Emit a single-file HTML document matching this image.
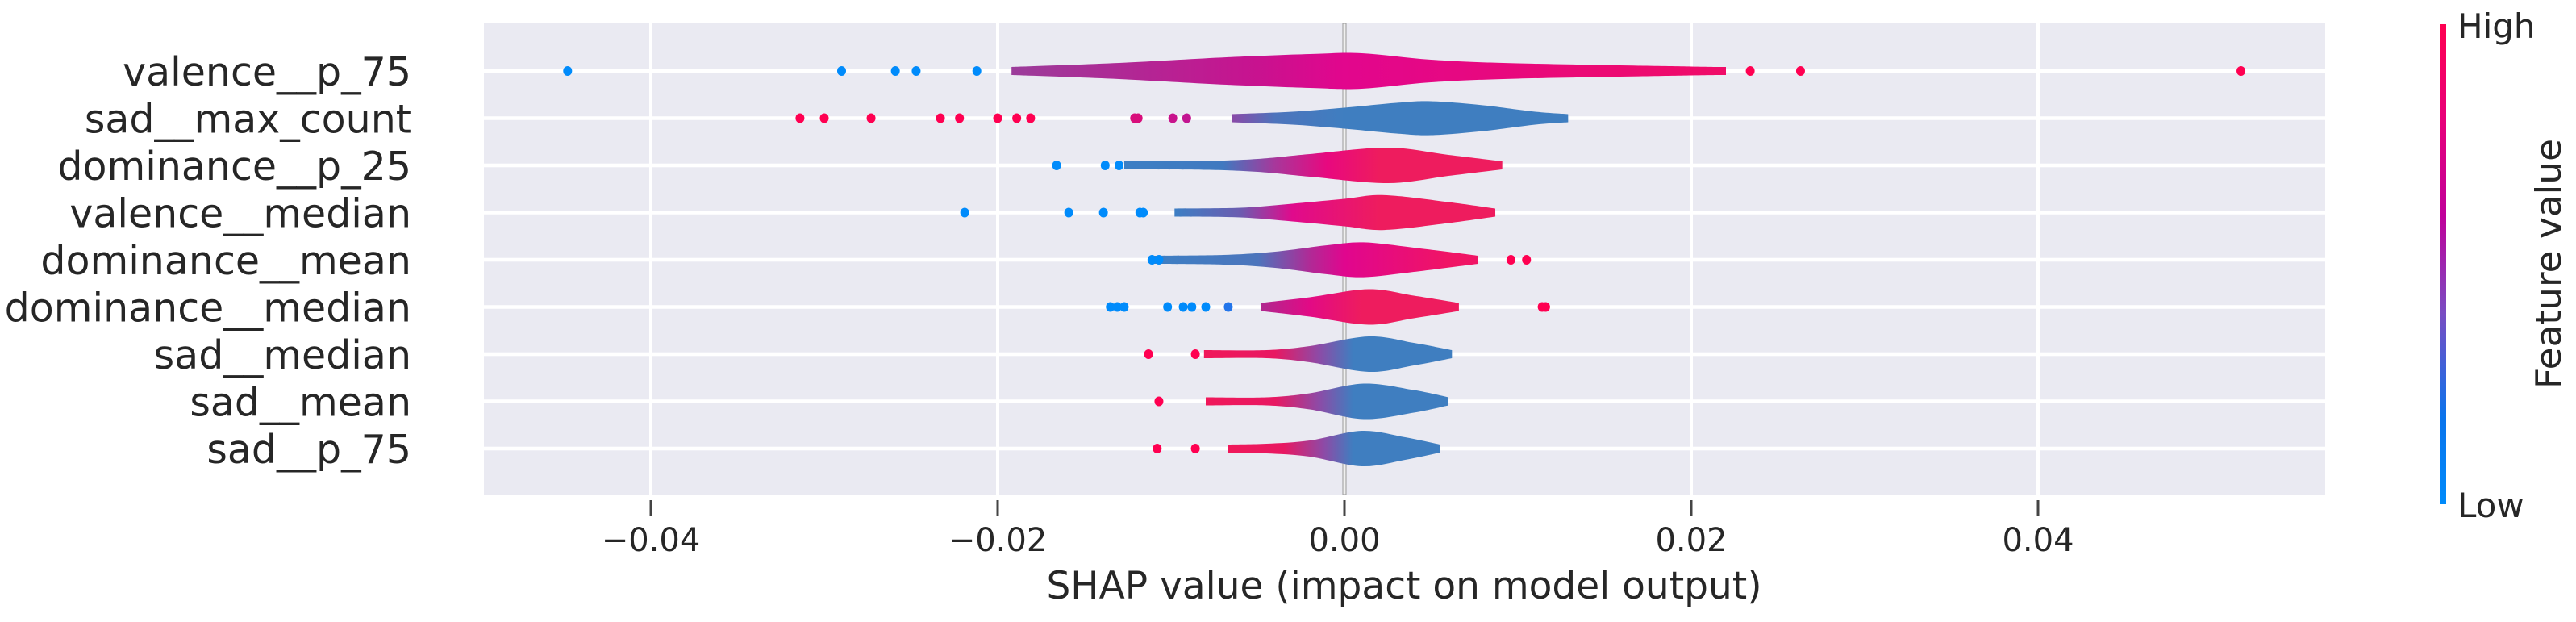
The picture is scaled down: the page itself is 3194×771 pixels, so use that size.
<!DOCTYPE html>
<html><head><meta charset="utf-8"><style>
html,body{margin:0;padding:0;background:#fff;}
svg{display:block;font-family:"DejaVu Sans","Liberation Sans",sans-serif;}
</style></head><body>
<svg id="chart" width="3194" height="771" viewBox="0 0 3194 771" xmlns="http://www.w3.org/2000/svg">
<defs>
<linearGradient id="cbar" x1="0" y1="1" x2="0" y2="0">
<stop offset="0" stop-color="#008bfb"/><stop offset="0.18" stop-color="#0a74ec"/><stop offset="0.4" stop-color="#7a4cc2"/><stop offset="0.6" stop-color="#c0009a"/><stop offset="0.8" stop-color="#e8007a"/><stop offset="1" stop-color="#ff0051"/>
</linearGradient>
</defs>
<rect x="600" y="29" width="2283" height="584" fill="#eaeaf2"/>
<g id="grid"></g>
<g id="violins"></g>
<g id="dots"></g>
<g id="labels"></g>
<text x="1741" y="742" font-size="47" fill="#262626" text-anchor="middle">SHAP value (impact on model output)</text>
<rect x="3025" y="30" width="8" height="595" fill="url(#cbar)"/>
<text x="3047" y="47" font-size="42" fill="#262626">High</text>
<text x="3047" y="641" font-size="42" fill="#262626">Low</text>
<text x="0" y="0" font-size="44" fill="#262626" text-anchor="middle" textLength="310" lengthAdjust="spacingAndGlyphs" transform="translate(3175,327) rotate(-90)">Feature value</text>
</svg>
<script>
const features = ["valence__p_75","sad__max_count","dominance__p_25","valence__median","dominance__mean","dominance__median","sad__median","sad__mean","sad__p_75"];
const xTicks = [-0.04,-0.02,0.00,0.02,0.04];
const xTickLabels = ["\u22120.04","\u22120.02","0.00","0.02","0.04"];
const violinX = [
 [-0.0192,-0.013,-0.0068,-0.002,0.001,0.005,0.010,0.020,0.022],
 [-0.0065,-0.003,0,0.003,0.005,0.008,0.011,0.0129],
 [-0.0127,-0.008,-0.005,-0.002,0.0025,0.006,0.0091],
 [-0.0098,-0.006,-0.003,0,0.0023,0.006,0.0087],
 [-0.0111,-0.007,-0.004,-0.001,0.0011,0.004,0.0077],
 [-0.0048,-0.002,0.0014,0.004,0.0066],
 [-0.0081,-0.0045,-0.002,0.0014,0.004,0.0062],
 [-0.0080,-0.0045,-0.002,0.0011,0.004,0.0060],
 [-0.0067,-0.0045,-0.002,0.0010,0.0035,0.0055]
];
const violinW = [
 [5,10,17,21,22,14,9.5,5.5,5],
 [5,8,13,19,21,16,8,5],
 [5,5.5,8,14,22,13,5],
 [5,6,11,17,21.6,13,5],
 [5,6,10,18,21.6,15,5],
 [5,12,22,14,5],
 [5,5,10,22,14,5],
 [5,5,10,22,14,5],
 [5,6,10,22,14,5]
];
const colorX = [
 [-0.0192,-0.005,0,0.022],
 [-0.0065,-0.004,0],
 [-0.0127,-0.007,-0.004,-0.001,0.002],
 [-0.0098,-0.006,-0.003,0.002],
 [-0.011,-0.005,-0.002,0,0.006],
 [-0.0048,-0.002,0.001],
 [-0.0081,-0.004,-0.0015,0.0005],
 [-0.0080,-0.004,-0.0015,0.0005],
 [-0.0067,-0.0035,-0.0012,0.0005]
];
const colorC = [
 ["#9b3c9a","#c8128f","#e2068d","#f00c68"],
 ["#8a4aa8","#4d74bc","#3f7ec0"],
 ["#3d7fc4","#4079c0","#a8379b","#e8087f","#ee1c5e"],
 ["#3d7fc4","#6c5cb0","#e00a8c","#ee1c5e"],
 ["#3d7fc4","#4c75bc","#b02a96","#e0068e","#f01465"],
 ["#b0288f","#e20a85","#ee1c5e"],
 ["#f0185a","#e81862","#8e4aa6","#3f7ec0"],
 ["#f0185a","#e81862","#8e4aa6","#3f7ec0"],
 ["#f0185a","#e81862","#8e4aa6","#3f7ec0"]
];
const dotVals = [
 [-0.0448,-0.0290,-0.0259,-0.0247,-0.0212,0.0234,0.0263,0.0517],
 [-0.0314,-0.0300,-0.0273,-0.0233,-0.0222,-0.0200,-0.0189,-0.0181,-0.0121,-0.0119,-0.0099,-0.0091],
 [-0.0166,-0.0138,-0.0130],
 [-0.0219,-0.0159,-0.0139,-0.0118,-0.0116],
 [-0.0111,-0.0107,0.0096,0.0105],
 [-0.0135,-0.0131,-0.0127,-0.0102,-0.0093,-0.0088,-0.0080,-0.0067,0.0114,0.0116],
 [-0.0113,-0.0086],
 [-0.0107],
 [-0.0108,-0.0086]
];
const dotFeat = [
 [0,0,0,0,0,1,1,1],
 [1,1,1,1,1,1,1,1,0.75,0.75,0.65,0.62],
 [0,0,0],
 [0,0,0,0,0],
 [0,0,1,1],
 [0,0,0,0,0,0,0,0.1,1,1],
 [1,1],[1],[1,1]
];
const NS="http://www.w3.org/2000/svg";
const X0=1667, PX=21500, ROW0=88, ROWSTEP=58.5;
function xs(v){return X0+v*PX;}
function ys(i){return ROW0+i*ROWSTEP;}
function cmap(t){
 const a=[0,139,251], m=[176,27,165], b=[255,0,81];
 let c; if(t<0.5){const u=t/0.5;c=a.map((v,k)=>v+(m[k]-v)*u);} else {const u=(t-0.5)/0.5;c=m.map((v,k)=>v+(b[k]-v)*u);}
 return "rgb("+c.map(Math.round).join(",")+")";
}
const svg=document.getElementById('chart');
const grid=document.getElementById('grid');
const defs=svg.querySelector('defs');
xTicks.forEach((t,i)=>{
 const l=document.createElementNS(NS,'line');
 
 
 l.setAttribute('x1',xs(t));l.setAttribute('x2',xs(t));l.setAttribute('y1',29);l.setAttribute('y2',613);
 l.setAttribute('stroke','#fff');l.setAttribute('stroke-width',4);
 grid.appendChild(l);
 const tk=document.createElementNS(NS,'line');
 
 
 tk.setAttribute('x1',xs(t));tk.setAttribute('x2',xs(t));tk.setAttribute('y1',620);tk.setAttribute('y2',639);
 tk.setAttribute('stroke','#444');tk.setAttribute('stroke-width',3);
 svg.appendChild(tk);
 const tx=document.createElementNS(NS,'text');
 
 
 tx.setAttribute('x',xs(t));tx.setAttribute('y',683);tx.setAttribute('font-size',40);
 tx.setAttribute('fill','#262626');tx.setAttribute('text-anchor','middle');
 tx.textContent=xTickLabels[i];
 svg.appendChild(tx);
});
features.forEach((f,i)=>{
 const l=document.createElementNS(NS,'line');
 
 
 l.setAttribute('x1',600);l.setAttribute('x2',2883);l.setAttribute('y1',ys(i));l.setAttribute('y2',ys(i));
 l.setAttribute('stroke','#fff');l.setAttribute('stroke-width',4.5);
 grid.appendChild(l);
});
const z=document.createElementNS(NS,'rect');


z.setAttribute('x',xs(0)-2);z.setAttribute('y',29);z.setAttribute('width',4);z.setAttribute('height',584);
z.setAttribute('fill','#f0f0f0');z.setAttribute('stroke','#999');z.setAttribute('stroke-width',1);
grid.appendChild(z);
const lab=document.getElementById('labels');
features.forEach((f,i)=>{
 const t=document.createElementNS(NS,'text');
 
 
 t.setAttribute('x',510);t.setAttribute('y',ys(i)+18);t.setAttribute('font-size',49);
 t.setAttribute('fill','#262626');t.setAttribute('text-anchor','end');
 t.textContent=f;
 lab.appendChild(t);
});
function smooth(pts){
 let d="";
 for(let k=0;k<pts.length-1;k++){
  const p0=pts[Math.max(0,k-1)],p1=pts[k],p2=pts[k+1],p3=pts[Math.min(pts.length-1,k+2)];
  const c1=[p1[0]+(p2[0]-p0[0])/6,p1[1]+(p2[1]-p0[1])/6];
  const c2=[p2[0]-(p3[0]-p1[0])/6,p2[1]-(p3[1]-p1[1])/6];
  d+=" C"+c1[0].toFixed(1)+","+c1[1].toFixed(1)+" "+c2[0].toFixed(1)+","+c2[1].toFixed(1)+" "+p2[0].toFixed(1)+","+p2[1].toFixed(1);
 }
 return d;
}
const vg=document.getElementById('violins');
features.forEach((f,i)=>{
 const cy=ys(i);
 const gid='vg'+i;
 const g=document.createElementNS(NS,'linearGradient');
 g.setAttribute('id',gid);g.setAttribute('gradientUnits','userSpaceOnUse');
 g.setAttribute('x1',xs(colorX[i][0]));g.setAttribute('x2',xs(colorX[i][colorX[i].length-1]));
 g.setAttribute('y1',0);g.setAttribute('y2',0);
 const span=colorX[i][colorX[i].length-1]-colorX[i][0];
 colorX[i].forEach((cx,k)=>{
  const s=document.createElementNS(NS,'stop');
  s.setAttribute('offset',((cx-colorX[i][0])/span).toFixed(4));
  s.setAttribute('stop-color',colorC[i][k]);
  g.appendChild(s);
 });
 defs.appendChild(g);
 const top=violinX[i].map((v,k)=>[xs(v),cy-violinW[i][k]]);
 const bot=violinX[i].map((v,k)=>[xs(v),cy+violinW[i][k]]).reverse();
 let d="M"+top[0][0]+","+top[0][1]+smooth(top)+" L"+bot[0][0]+","+bot[0][1]+smooth(bot)+" Z";
 const p=document.createElementNS(NS,'path');
 
 
 p.setAttribute('d',d);p.setAttribute('fill','url(#'+gid+')');
 vg.appendChild(p);
});
const dg=document.getElementById('dots');
features.forEach((f,i)=>{
 dotVals[i].forEach((v,k)=>{
  const c=document.createElementNS(NS,'ellipse');
  
  
  c.setAttribute('cx',xs(v));c.setAttribute('cy',ys(i));c.setAttribute('rx',5.5);c.setAttribute('ry',6);
  c.setAttribute('fill',cmap(dotFeat[i][k]));
  dg.appendChild(c);
 });
});
</script>
</body></html>
